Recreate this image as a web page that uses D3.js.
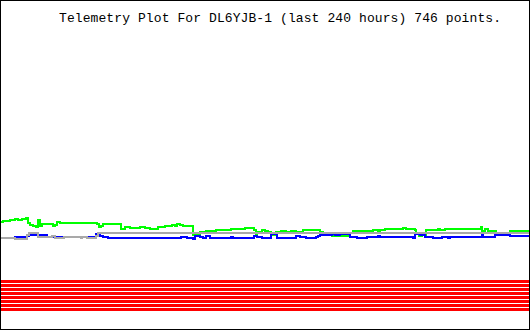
<!DOCTYPE html>
<html>
<head>
<meta charset="utf-8">
<script src="https://cdn.jsdelivr.net/npm/d3@7"></script>
<style>
  body { margin: 0; background: #fff; }
  svg { display: block; }
</style>
</head>
<body>
<div id="chart"></div>
<script>
const title = 'Telemetry Plot For DL6YJB-1 (last 240 hours) 746 points.';
const hoursSpan = 240;

// [hours, value], step changes only
const green = [
  [0, 54], [1.4, 54.5], [4.5, 55], [6.8, 55.5], [8.2, 55], [10.0, 55.5], [11.8, 56], [12.7, 53.5],
  [13.6, 52.5], [15.0, 52], [16.3, 51.5], [17.2, 55], [18.1, 52], [19.1, 53], [24.0, 52], [25.0, 52.5],
  [25.9, 54], [27.2, 53.5], [44.0, 53], [44.9, 51.5], [45.8, 52], [46.7, 53], [54.9, 50.5], [56.7, 51.5],
  [59.0, 51], [63.5, 51.5], [65.8, 51], [68.1, 50.5], [71.7, 51.5], [74.9, 52], [78.0, 52.5], [79.4, 52],
  [80.3, 53], [81.7, 52.5], [83.0, 52], [87.6, 47.5], [90.7, 49], [93.5, 49.5], [98.0, 50], [104.8, 50.5],
  [111.2, 51], [115.2, 50], [116.1, 48], [116.6, 49], [118.9, 50], [120.2, 49.5], [121.6, 49], [122.9, 47.5],
  [125.2, 49], [127.5, 49.5], [129.8, 49], [132.0, 49.5], [134.3, 49], [137.5, 50], [145.2, 49], [146.5, 48],
  [148.4, 47.5], [150.6, 47], [158.8, 48.5], [160.2, 49.5], [169.2, 50], [171.5, 49.5], [172.4, 50], [174.7, 50.5],
  [182.8, 51], [184.2, 50.5], [188.3, 50], [188.7, 48], [190.1, 47], [191.5, 47.5], [193.3, 50], [198.7, 50.5],
  [199.6, 50], [201.9, 50.5], [218.2, 51.5], [218.7, 49.5], [220.0, 50.5], [221.4, 49.5], [225.0, 48], [231.4, 49.5],
  [240, 49.5]
];

const blue = [
  [0, 46], [6.8, 46.5], [12.2, 47], [13.2, 47.5], [17.2, 46.5], [18.1, 47.5], [21.3, 46.5], [27.2, 46.5],
  [43.6, 48], [45.4, 47], [46.7, 46.5], [49.0, 46], [82.1, 46.5], [84.8, 46], [87.6, 45.5], [88.5, 47],
  [90.7, 46.5], [92.1, 46], [93.5, 47], [95.3, 46], [104.8, 46.5], [105.7, 46], [115.2, 47], [116.6, 46.5],
  [118.9, 46], [122.9, 48], [125.7, 46], [134.3, 47], [136.1, 46.5], [138.8, 46], [143.4, 46.5], [144.3, 47],
  [145.2, 47.5], [150.6, 48], [152.0, 47.5], [154.3, 48], [158.8, 46.5], [162.0, 46], [166.5, 46.5], [171.5, 47],
  [172.4, 46.5], [187.4, 46], [188.3, 48], [190.5, 47.5], [192.8, 46.5], [196.4, 46], [200.5, 46.5], [203.3, 46],
  [204.2, 46.5], [218.7, 47.5], [219.1, 46.5], [224.6, 47.5], [231.4, 47], [240, 47]
];

const gray = [
  [0, 46], [6.8, 45.5], [12.2, 47.5], [13.2, 48.5], [17.2, 46.5], [23.6, 47], [25.0, 46], [29.0, 46.5],
  [36.7, 46], [37.2, 46.5], [39.5, 46], [43.6, 47], [44.5, 48.5], [240, 48.5]
];

// eight digital bit channels, drawn as flat bands
const bitLevels = [24.25, 22.25, 20.25, 18.25, 16.25, 14.25, 12.25, 10.25];

const width = 530, height = 330;

const x = d3.scaleLinear().domain([0, hoursSpan]).range([0, width - 1]);
const y = d3.scaleLinear().domain([0, 165]).range([height, 0]);

const svg = d3.select('#chart')
  .append('svg')
  .attr('width', width)
  .attr('height', height);

svg.append('rect')
  .attr('width', width)
  .attr('height', height)
  .attr('fill', '#fff');

const line = d3.line()
  .x(d => x(d[0]))
  .y(d => y(d[1]))
  .curve(d3.curveStepAfter);

svg.append('g')
  .selectAll('path')
  .data(bitLevels.map(v => [[0, v], [hoursSpan, v]]))
  .enter()
  .append('path')
  .attr('d', line)
  .attr('fill', 'none')
  .attr('stroke', '#ff0000')
  .attr('stroke-width', 3)
  .attr('shape-rendering', 'crispEdges');

const series = [
  { data: green, color: '#00ff00' },
  { data: blue, color: '#0000ff' },
  { data: gray, color: '#a9a9a9' }
];

svg.append('g')
  .selectAll('path')
  .data(series)
  .enter()
  .append('path')
  .attr('d', d => line(d.data))
  .attr('fill', 'none')
  .attr('stroke', d => d.color)
  .attr('stroke-width', 2)
  .attr('shape-rendering', 'crispEdges');

svg.append('rect')
  .attr('x', 0.5)
  .attr('y', 0.5)
  .attr('width', width - 1)
  .attr('height', height - 1)
  .attr('fill', 'none')
  .attr('stroke', '#000')
  .attr('shape-rendering', 'crispEdges');

svg.append('text')
  .attr('x', 59)
  .attr('y', 22)
  .attr('textLength', 442)
  .attr('lengthAdjust', 'spacing')
  .attr('font-family', '"Liberation Mono", monospace')
  .attr('font-size', '13px')
  .attr('fill', '#000')
  .text(title);
</script>
</body>
</html>
